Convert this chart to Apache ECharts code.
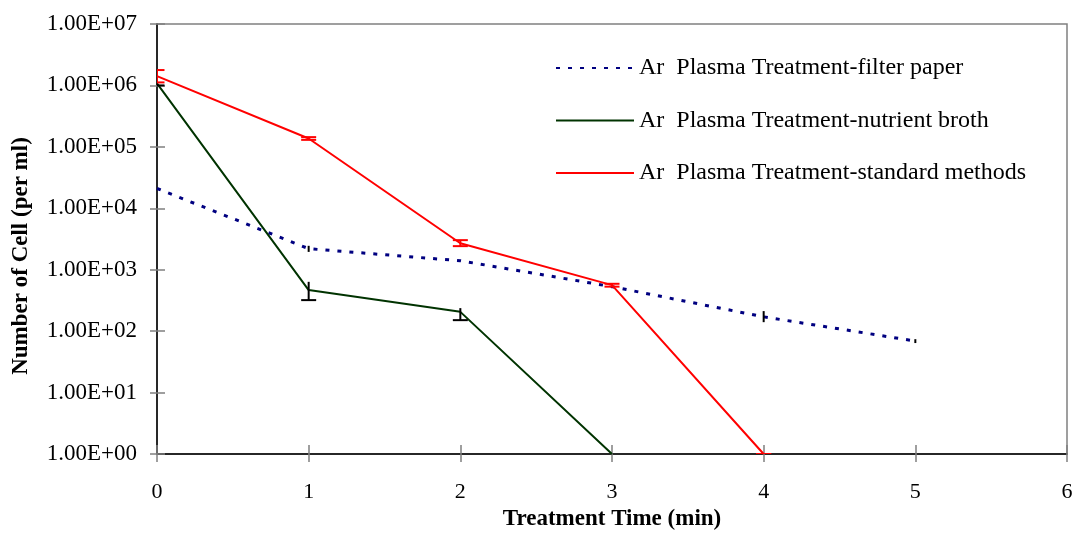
<!DOCTYPE html>
<html>
<head>
<meta charset="utf-8">
<script src="https://cdn.jsdelivr.net/npm/echarts@6/dist/echarts.min.js"></script>
<style>html,body{margin:0;padding:0;background:#fff}#c{width:1076px;height:536px}</style>
</head>
<body>
<div id="c"></div>
<script>
// ---- data ----
var time = [0, 1, 2, 3, 4, 5];
var seriesNames = ['Ar  Plasma Treatment-filter paper', 'Ar  Plasma Treatment-nutrient broth', 'Ar  Plasma Treatment-standard methods'];
var filterPaper = [2.1e4, 2.2e3, 1.4e3, 530, 171, 69];
var filterLow  = [null, 1.95e3, null, null, 140, 64];
var filterHigh = [null, 2.45e3, null, null, 212, 74];
var nutrientBroth = [1.08e6, 466, 206, 1];
var nutrientLow  = [1.0e6, 320, 151, null];
var nutrientHigh = [1.15e6, 635, 237, null];
var standardMethods = [1.42e6, 1.37e5, 2.7e3, 561, 1];
var standardLow  = [1.12e6, 1.30e5, 2.42e3, 530, 1];
var standardHigh = [1.78e6, 1.44e5, 3.03e3, 590, 1];
var yTicks = ['1.00E+00','1.00E+01','1.00E+02','1.00E+03','1.00E+04','1.00E+05','1.00E+06','1.00E+07'];

function pairs(vals) { return vals.map(function (v, i) { return [time[i], v]; }); }
function errPairs(lo, hi) {
  var out = [];
  lo.forEach(function (l, i) { if (l != null) out.push([time[i], l, hi[i]]); });
  return out;
}
function errSeries(data, color, capTop, capBottom) {
  return {
    type: 'custom', data: data, clip: true, silent: true, z: 5,
    encode: { x: 0, y: [1, 2] },
    renderItem: function (params, api) {
      var lo = api.coord([api.value(0), api.value(1)]);
      var hi = api.coord([api.value(0), api.value(2)]);
      var w = 7.5;
      var st = { stroke: color, lineWidth: 2 };
      var ch = [{ type: 'line', shape: { x1: lo[0], y1: lo[1], x2: hi[0], y2: hi[1] }, style: st }];
      if (capTop) ch.push({ type: 'line', shape: { x1: hi[0] - w, y1: hi[1], x2: hi[0] + w, y2: hi[1] }, style: st });
      if (capBottom) ch.push({ type: 'line', shape: { x1: lo[0] - w, y1: lo[1], x2: lo[0] + w, y2: lo[1] }, style: st });
      return { type: 'group', children: ch };
    }
  };
}

var font = 'Liberation Serif, Times New Roman, serif';
var chart = echarts.init(document.getElementById('c'));
chart.setOption({
  animation: false,
  textStyle: { fontFamily: font },
  grid: { left: 157, right: 9, top: 24, bottom: 82, show: true, borderColor: '#808080', borderWidth: 1.5 },
  legend: {
    show: true, orient: 'vertical', left: 555, top: 56, padding: 0,
    itemWidth: 78, itemHeight: 14, itemGap: 28.5,
    itemStyle: { opacity: 0 },
    textStyle: { fontFamily: font, fontSize: 24, color: '#000' },
    data: seriesNames
  },
  xAxis: [{
    type: 'value', min: 0, max: 6, interval: 1,
    axisLine: { show: true, lineStyle: { color: '#000', width: 1.5 } },
    axisTick: { show: true, length: 8, lineStyle: { color: '#808080', width: 1.5 } },
    axisLabel: { fontFamily: font, fontSize: 22, color: '#000', margin: 27 },
    splitLine: { show: false },
    name: 'Treatment Time (min)', nameLocation: 'middle', nameGap: 41,
    nameTextStyle: { fontFamily: font, fontSize: 23, fontWeight: 'bold', color: '#000' }
  }, {
    type: 'value', min: 0, max: 6, interval: 1, position: 'bottom',
    axisLine: { show: false }, axisLabel: { show: false }, splitLine: { show: false },
    axisTick: { show: true, inside: true, length: 9, lineStyle: { color: '#808080', width: 1.5 } }
  }],
  yAxis: [{
    type: 'log', logBase: 10, min: 1, max: 1e7,
    axisLine: { show: true, lineStyle: { color: '#000', width: 1.5 } },
    axisTick: { show: true, length: 7, lineStyle: { color: '#808080', width: 1.5 } },
    axisLabel: { fontFamily: font, fontSize: 23, color: '#000', margin: 20,
      formatter: function (v) { var e = Math.round(Math.log10(v)); return yTicks[e] || ''; } },
    splitLine: { show: false }, minorTick: { show: false },
    name: 'Number of Cell (per ml)', nameLocation: 'middle', nameGap: 124,
    nameTextStyle: { fontFamily: font, fontSize: 23, fontWeight: 'bold', color: '#000', padding: [0, 34, 0, 0] }
  }, {
    type: 'log', logBase: 10, min: 1, max: 1e7, position: 'left',
    axisLine: { show: false }, axisLabel: { show: false }, splitLine: { show: false },
    axisTick: { show: true, inside: true, length: 8, lineStyle: { color: '#808080', width: 1.5 } }
  }],
  series: [
    { name: seriesNames[0], type: 'line', data: pairs(filterPaper), symbol: 'none', z: 3,
      lineStyle: { color: '#000080', width: 3, type: [4, 8] }, itemStyle: { color: '#000080' } },
    { name: seriesNames[1], type: 'line', data: pairs(nutrientBroth), symbol: 'none', z: 3,
      lineStyle: { color: '#003300', width: 2 }, itemStyle: { color: '#003300' } },
    { name: seriesNames[2], type: 'line', data: pairs(standardMethods), symbol: 'none', z: 3,
      lineStyle: { color: '#ff0000', width: 2 }, itemStyle: { color: '#ff0000' } },
    errSeries(errPairs(filterLow, filterHigh), '#000', false, false),
    errSeries(errPairs(nutrientLow, nutrientHigh), '#000', false, true),
    errSeries(errPairs(standardLow, standardHigh), '#ff0000', true, true)
  ]
});
</script>
</body>
</html>
